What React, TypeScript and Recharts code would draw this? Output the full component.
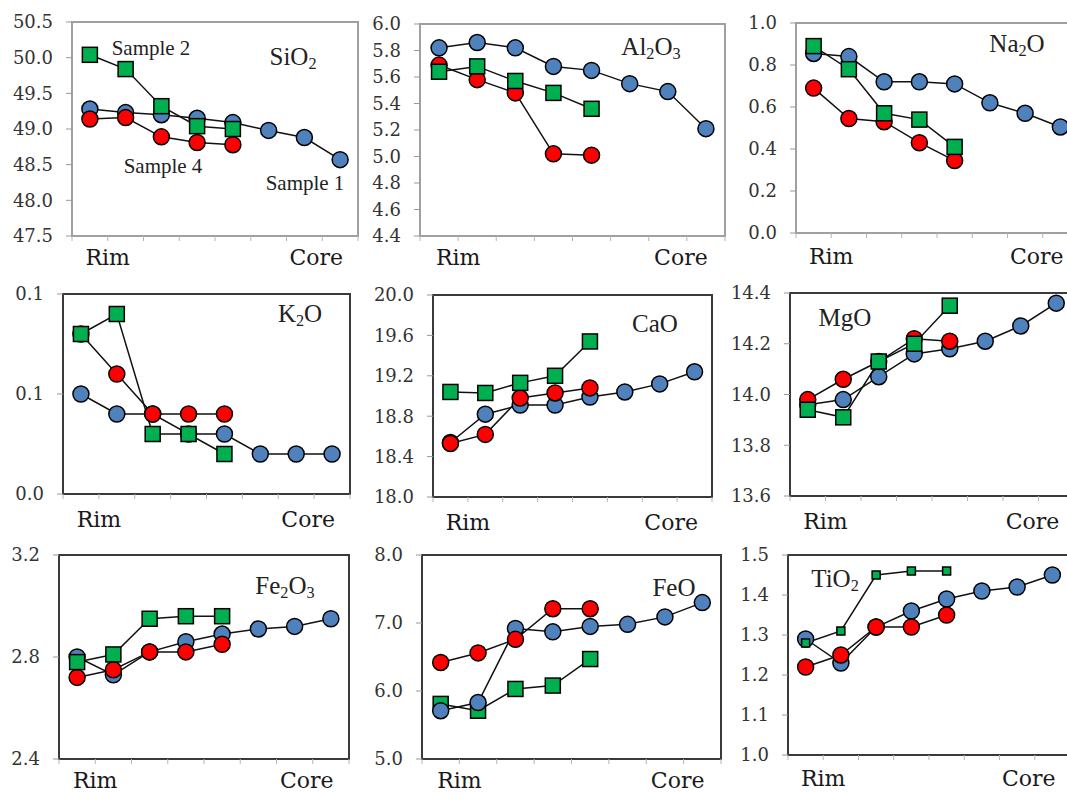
import React from "react";
import { Line, LineChart, XAxis, YAxis } from "recharts";

// Values (wt.%), rim -> core, 8 steps for sample 1, 5 for samples 2 and 4
const sio2Sample1 = [49.28, 49.23, 49.2, 49.15, 49.09, 48.98, 48.88, 48.57];
const sio2Sample2 = [50.04, 49.84, 49.32, 49.04, 49.0];
const sio2Sample4 = [49.14, 49.16, 48.89, 48.81, 48.78];

const al2o3Sample1 = [5.82, 5.86, 5.82, 5.68, 5.65, 5.55, 5.49, 5.21];
const al2o3Sample2 = [5.64, 5.68, 5.57, 5.48, 5.36];
const al2o3Sample4 = [5.69, 5.58, 5.48, 5.02, 5.01];

const na2oSample1 = [0.855, 0.84, 0.72, 0.72, 0.71, 0.62, 0.57, 0.505];
const na2oSample2 = [0.89, 0.78, 0.57, 0.54, 0.41];
const na2oSample4 = [0.69, 0.545, 0.53, 0.43, 0.345];

const k2oSample1 = [0.05, 0.04, 0.04, 0.03, 0.03, 0.02, 0.02, 0.02];
const k2oSample2 = [0.08, 0.09, 0.03, 0.03, 0.02];
const k2oSample4 = [0.08, 0.06, 0.04, 0.04, 0.04];

const caoSample1 = [18.54, 18.82, 18.91, 18.91, 18.99, 19.04, 19.12, 19.24];
const caoSample2 = [19.04, 19.03, 19.13, 19.2, 19.54];
const caoSample4 = [18.53, 18.62, 18.98, 19.03, 19.08];

const mgoSample1 = [13.96, 13.98, 14.07, 14.16, 14.18, 14.21, 14.27, 14.36];
const mgoSample2 = [13.94, 13.91, 14.13, 14.2, 14.35];
const mgoSample4 = [13.98, 14.06, 14.13, 14.22, 14.21];

const fe2o3Sample1 = [2.8, 2.73, 2.82, 2.86, 2.89, 2.91, 2.92, 2.95];
const fe2o3Sample2 = [2.78, 2.81, 2.95, 2.96, 2.96];
const fe2o3Sample4 = [2.72, 2.75, 2.82, 2.82, 2.85];

const feoSample1 = [5.71, 5.83, 6.92, 6.87, 6.95, 6.98, 7.09, 7.3];
const feoSample2 = [5.81, 5.71, 6.03, 6.08, 6.47];
const feoSample4 = [6.42, 6.56, 6.76, 7.21, 7.21];

const tio2Sample1 = [1.29, 1.23, 1.32, 1.36, 1.39, 1.41, 1.42, 1.45];
const tio2Sample2 = [1.28, 1.31, 1.45, 1.46, 1.46];
const tio2Sample4 = [1.22, 1.25, 1.32, 1.32, 1.35];

// y-axis tick labels
const sio2Ticks = [47.5, 48.0, 48.5, 49.0, 49.5, 50.0, 50.5];
const al2o3Ticks = [4.4, 4.6, 4.8, 5.0, 5.2, 5.4, 5.6, 5.8, 6.0];
const na2oTicks = [0.0, 0.2, 0.4, 0.6, 0.8, 1.0];
const k2oTicks = [0.0, 0.05, 0.1];
const caoTicks = [18.0, 18.4, 18.8, 19.2, 19.6, 20.0];
const mgoTicks = [13.6, 13.8, 14.0, 14.2, 14.4];
const fe2o3Ticks = [2.4, 2.8, 3.2];
const feoTicks = [5.0, 6.0, 7.0, 8.0];
const tio2Ticks = [1.0, 1.1, 1.2, 1.3, 1.4, 1.5];

const edgeLabels = ["Rim", "Core"];

const FONT = "Liberation Serif, Times New Roman, serif";
const SVG_FONT = "DejaVu Serif";
const BLUE = "#4f81bd";
const RED = "#ff0000";
const GREEN = "#00b050";
const LIGHT_FRAME = "#a0a0a0";
const DARK_FRAME = "#3a3a3a";

type Key = "s1" | "s2" | "s4";

type PanelDef = {
  s1: number[];
  s2: number[];
  s4: number[];
  ticks: number[];
  box: [number, number, number, number]; // plot area: left, top, right, bottom
  frame: string;
  order: Key[];
  squareSize: number;
  edgeDy: number;
};

const panels: PanelDef[] = [
  { s1: sio2Sample1, s2: sio2Sample2, s4: sio2Sample4, ticks: sio2Ticks, box: [72, 22, 358, 236], frame: LIGHT_FRAME, order: ["s1", "s4", "s2"], squareSize: 15, edgeDy: 22 },
  { s1: al2o3Sample1, s2: al2o3Sample2, s4: al2o3Sample4, ticks: al2o3Ticks, box: [420, 24, 725, 236], frame: LIGHT_FRAME, order: ["s1", "s4", "s2"], squareSize: 15, edgeDy: 22 },
  { s1: na2oSample1, s2: na2oSample2, s4: na2oSample4, ticks: na2oTicks, box: [796, 23, 1078, 233], frame: LIGHT_FRAME, order: ["s1", "s4", "s2"], squareSize: 15, edgeDy: 24 },
  { s1: k2oSample1, s2: k2oSample2, s4: k2oSample4, ticks: k2oTicks, box: [63, 294, 350, 494], frame: DARK_FRAME, order: ["s1", "s4", "s2"], squareSize: 15, edgeDy: 26 },
  { s1: caoSample1, s2: caoSample2, s4: caoSample4, ticks: caoTicks, box: [433, 295, 712, 497], frame: DARK_FRAME, order: ["s1", "s4", "s2"], squareSize: 15, edgeDy: 26 },
  { s1: mgoSample1, s2: mgoSample2, s4: mgoSample4, ticks: mgoTicks, box: [790, 293, 1074, 496], frame: DARK_FRAME, order: ["s1", "s4", "s2"], squareSize: 15, edgeDy: 26 },
  { s1: fe2o3Sample1, s2: fe2o3Sample2, s4: fe2o3Sample4, ticks: fe2o3Ticks, box: [59, 555, 349, 759], frame: DARK_FRAME, order: ["s1", "s4", "s2"], squareSize: 15, edgeDy: 22 },
  { s1: feoSample1, s2: feoSample2, s4: feoSample4, ticks: feoTicks, box: [422, 555, 721, 759], frame: DARK_FRAME, order: ["s2", "s1", "s4"], squareSize: 15, edgeDy: 22 },
  { s1: tio2Sample1, s2: tio2Sample2, s4: tio2Sample4, ticks: tio2Ticks, box: [788, 555, 1070, 755], frame: DARK_FRAME, order: ["s1", "s4", "s2"], squareSize: 8, edgeDy: 24 },
];

const Sub = ({ children }: { children: React.ReactNode }) => (
  <span style={{ fontSize: "0.65em", verticalAlign: "-0.3em", lineHeight: 0 }}>{children}</span>
);

// annotation text placed inside the panels (centre x, centre y)
const notes: { x: number; y: number; size: number; content: React.ReactNode }[] = [
  { x: 293, y: 56, size: 25, content: <>SiO<Sub>2</Sub></> },
  { x: 151, y: 48, size: 21, content: "Sample 2" },
  { x: 163, y: 166, size: 21, content: "Sample 4" },
  { x: 305, y: 183, size: 21, content: "Sample 1" },
  { x: 651, y: 46, size: 25, content: <>Al<Sub>2</Sub>O<Sub>3</Sub></> },
  { x: 1017, y: 43, size: 25, content: <>Na<Sub>2</Sub>O</> },
  { x: 300, y: 313, size: 25, content: <>K<Sub>2</Sub>O</> },
  { x: 655, y: 323, size: 25, content: "CaO" },
  { x: 845, y: 317, size: 25, content: "MgO" },
  { x: 285, y: 585, size: 25, content: <>Fe<Sub>2</Sub>O<Sub>3</Sub></> },
  { x: 674, y: 587, size: 25, content: "FeO" },
  { x: 835, y: 578, size: 25, content: <>TiO<Sub>2</Sub></> },
];

const circleDot = (fill: string) => (props: any) => {
  const { cx, cy, index } = props;
  if (cx == null || cy == null) return <g key={`c-${index}`} />;
  return <circle key={`c-${index}`} cx={cx} cy={cy} r={8} fill={fill} stroke="#000" strokeWidth={1.5} />;
};

const squareDot = (size: number) => (props: any) => {
  const { cx, cy, index } = props;
  if (cx == null || cy == null) return <g key={`s-${index}`} />;
  return (
    <rect key={`s-${index}`} x={cx - size / 2} y={cy - size / 2} width={size} height={size}
      fill={GREEN} stroke="#000" strokeWidth={1.5} />
  );
};

const boundaries = [0, 1, 2, 3, 4, 5, 6, 7, 8];

function Panel({ p }: { p: PanelDef }) {
  const [L, T, R, B] = p.box;
  const rows = p.s1.map((v, i) => ({ pos: i + 0.5, s1: v, s2: p.s2[i], s4: p.s4[i] }));
  const dots: Record<Key, any> = {
    s1: circleDot(BLUE),
    s4: circleDot(RED),
    s2: squareDot(p.squareSize),
  };

  // "Rim" sits between the first two points, "Core" near the last boundary
  const renderEdgeTick = (props: any) => {
    const { x, y, payload, index } = props;
    let label = "";
    let dx = 0;
    if (payload.value === 1) label = edgeLabels[0];
    if (payload.value === 7) {
      label = edgeLabels[1];
      dx = -6;
    }
    if (!label) return <g key={`e-${index}`} />;
    return (
      <text key={`e-${index}`} x={x + dx} y={y + p.edgeDy} textAnchor="middle" fill="#1a1a1a"
        fontFamily={SVG_FONT} fontSize={22}>
        {label}
      </text>
    );
  };

  const renderValueTick = (props: any) => {
    const { x, y, payload, index } = props;
    return (
      <text key={`v-${index}`} x={x} y={y} dy="0.36em" textAnchor="end" fill="#333"
        fontFamily={SVG_FONT} fontSize={18}>
        {Number(payload.value).toFixed(1)}
      </text>
    );
  };

  return (
    <>
      <div
        style={{
          position: "absolute",
          left: L - 1,
          top: T - 1,
          width: R - L + 2,
          height: B - T + 2,
          border: `2px solid ${p.frame}`,
          boxSizing: "border-box",
        }}
      />
      <div style={{ position: "absolute", left: L - 70, top: T - 12 }}>
        <LineChart
          width={R - L + 80}
          height={B - T + 57}
          data={rows}
          margin={{ top: 12, right: 10, left: 10, bottom: 5 }}
        >
          <XAxis
            type="number"
            dataKey="pos"
            domain={[0, 8]}
            ticks={boundaries}
            interval={0}
            allowDataOverflow
            height={40}
            tick={renderEdgeTick}
            tickSize={5}
            tickLine={{ stroke: "#b5b5b5" }}
            axisLine={{ stroke: p.frame, strokeWidth: 2 }}
          />
          <YAxis
            type="number"
            domain={[p.ticks[0], p.ticks[p.ticks.length - 1]]}
            ticks={p.ticks}
            interval={0}
            allowDataOverflow
            width={60}
            tick={renderValueTick}
            tickSize={6}
            tickMargin={13}
            tickLine={{ stroke: "#999" }}
            axisLine={{ stroke: p.frame, strokeWidth: 2 }}
          />
          {p.order.map((k) => (
            <Line
              key={k}
              dataKey={k}
              stroke="#111"
              strokeWidth={1.5}
              dot={dots[k]}
              activeDot={false}
              isAnimationActive={false}
            />
          ))}
        </LineChart>
      </div>
    </>
  );
}

export default function App() {
  return (
    <div
      style={{
        position: "absolute",
        left: 0,
        top: 0,
        width: 1067,
        height: 794,
        overflow: "hidden",
        background: "#fff",
        fontFamily: FONT,
      }}
    >
      {panels.map((p, i) => (
        <Panel key={i} p={p} />
      ))}
      {notes.map((n, i) => (
        <div
          key={i}
          style={{
            position: "absolute",
            left: n.x,
            top: n.y,
            transform: "translate(-50%, -50%)",
            fontSize: n.size,
            whiteSpace: "nowrap",
            color: "#222",
            lineHeight: 1,
          }}
        >
          {n.content}
        </div>
      ))}
    </div>
  );
}
